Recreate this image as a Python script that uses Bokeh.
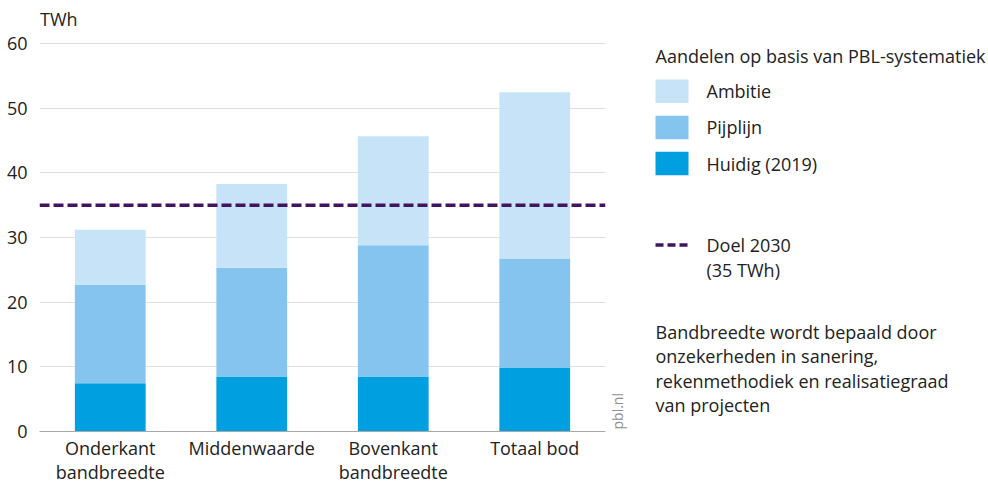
import math
from bokeh.plotting import figure
from bokeh.models import (ColumnDataSource, FixedTicker, Span, Range1d, FactorRange)
from bokeh.layouts import row
from bokeh.embed import file_html
from bokeh.resources import INLINE
from bokeh.core.properties import value

# ---- data ----
categories = ["Onderkant\nbandbreedte", "Middenwaarde", "Bovenkant\nbandbreedte", "Totaal bod"]
series_names = ["Huidig (2019)", "Pijplijn", "Ambitie"]
huidig = [7.45, 8.5, 8.5, 9.9]
pijplijn = [15.25, 16.85, 20.3, 16.85]
ambitie = [8.5, 12.95, 16.9, 25.75]
doel_2030 = 35
y_ticks = [0, 10, 20, 30, 40, 50, 60]
y_max = 60
y_unit = "TWh"
legend_title = "Aandelen op basis van PBL-systematiek"
doel_label = ["Doel 2030", "(35 TWh)"]
note_lines = ["Bandbreedte wordt bepaald door", "onzekerheden in sanering,",
              "rekenmethodiek en realisatiegraad", "van projecten"]
source_label = "pbl.nl"

colors = ["#009fdf", "#85c4ee", "#c7e3f7"]
doel_color = "#42145f"
FONT = "Open Sans"
FS = "18px"
TXT = "#222222"

# ---- layout geometry (pixels) ----
H = 486
TOP, BOTTOM = 4, 54            # frame spans TOP .. H-BOTTOM
FRAME_BOTTOM = H - BOTTOM      # y pixel of value 0
TICK_TOP_PX = 43.3             # y pixel of value y_max
px_per_unit = (FRAME_BOTTOM - TICK_TOP_PX) / y_max
y_end = (FRAME_BOTTOM - TOP) / px_per_unit

# ---- main chart ----
src = ColumnDataSource(dict(cat=categories, huidig=huidig, pijplijn=pijplijn, ambitie=ambitie))

p = figure(x_range=FactorRange(*categories, range_padding=0), y_range=Range1d(0, y_end),
           width=608, height=H, output_backend="svg", toolbar_location=None,
           min_border_left=39, min_border_right=3,
           min_border_top=TOP, min_border_bottom=BOTTOM, outline_line_color=None)

p.vbar_stack(["huidig", "pijplijn", "ambitie"], x="cat", width=0.5, source=src,
             fill_color=colors, line_color=None)

# unit label above the top gridline
p.text(x=[0.004], y=[y_max + (TICK_TOP_PX - 18.8) / px_per_unit], text=[y_unit],
       text_font=value(FONT), text_font_size=FS, text_color=TXT,
       text_align="left", text_baseline="middle")

p.yaxis.ticker = FixedTicker(ticks=y_ticks)
p.yaxis.axis_line_color = None
p.yaxis.major_tick_line_color = None
p.yaxis.minor_tick_line_color = None
p.yaxis.major_label_standoff = 6
p.yaxis.major_label_text_font = FONT
p.yaxis.major_label_text_font_size = FS
p.yaxis.major_label_text_color = TXT
p.ygrid.ticker = FixedTicker(ticks=y_ticks)
p.ygrid.grid_line_color = "#dedede"
p.xgrid.visible = False

p.xaxis.axis_line_color = "#a8a8a8"
p.xaxis.axis_line_width = 1.2
p.xaxis.major_tick_line_color = None
p.xaxis.minor_tick_line_color = None
p.xaxis.major_tick_out = 0
p.xaxis.major_label_standoff = 4
p.xaxis.major_label_text_font = FONT
p.xaxis.major_label_text_font_size = FS
p.xaxis.major_label_text_color = TXT
p.xaxis.major_label_text_line_height = 1.02

p.add_layout(Span(location=doel_2030, dimension="width", line_color=doel_color,
                  line_width=3.5, line_dash="10 4"))

# ---- legend / notes panel (frame aligned with main frame; data y == screen y) ----
lf = figure(width=380, height=H, x_range=Range1d(0, 380), y_range=Range1d(FRAME_BOTTOM, TOP),
            output_backend="svg", toolbar_location=None, x_axis_location=None,
            y_axis_location=None, min_border_left=0, min_border_right=0,
            min_border_top=TOP, min_border_bottom=BOTTOM, outline_line_color=None)
lf.xgrid.visible = False
lf.ygrid.visible = False

def txt(x, y, s, size=FS, color=TXT, **kw):
    lf.text(x=[x], y=[y], text=[s], text_font=value(FONT), text_font_size=size,
            text_color=color, text_baseline="middle", **kw)

txt(47, 55.5, legend_title)
legend_order = [2, 1, 0]
for i, idx in enumerate(legend_order):
    top = 79.3 + 36.2 * i
    lf.quad(left=[47], right=[80], top=[top], bottom=[top + 23.5], fill_color=colors[idx],
            line_color=None)
    txt(98, 91 + 36.2 * i, series_names[idx])

lf.line(x=[47, 80], y=[245, 245], line_color=doel_color, line_width=3.5, line_dash="8 4")
txt(98, 245, doel_label[0])
txt(98, 270, doel_label[1])

for i, s in enumerate(note_lines):
    txt(47, 332 + 24.6 * i, s)

txt(9, 430, source_label, size="14px", color="#8f8f8f", angle=math.pi / 2)

layout = row(p, lf)
open("out.html", "w").write(file_html(layout, INLINE))
